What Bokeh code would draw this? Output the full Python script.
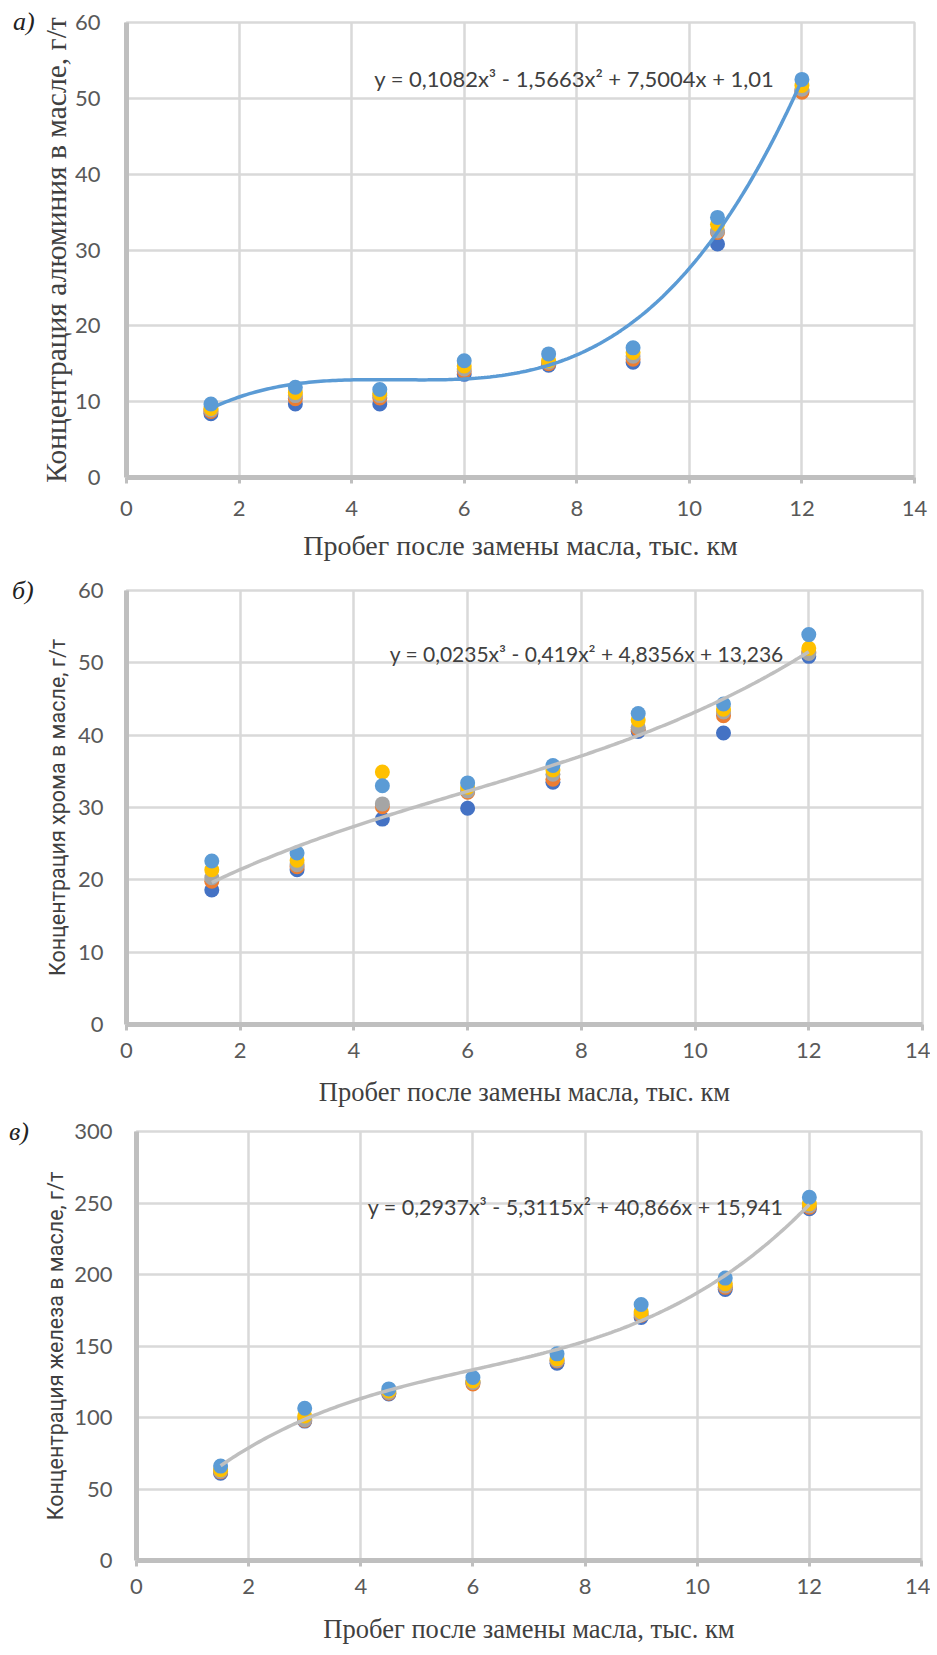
from bokeh.plotting import figure
from bokeh.layouts import row
from bokeh.models import Range1d, FixedTicker, Label, Div
from bokeh.embed import file_html
from bokeh.resources import INLINE
import numpy as np

# ---------------- data ----------------
x_km = [1.5, 3, 4.5, 6, 7.5, 9, 10.5, 12]

# Aluminium (panel a)
al_1 = [8.4, 9.7, 9.7, 13.6, 14.8, 15.2, 30.8, 51.0]
al_2 = [8.7, 10.4, 10.5, 14.0, 15.0, 15.6, 32.3, 50.8]
al_3 = [8.9, 10.8, 10.8, 14.3, 15.2, 16.0, 32.5, 51.2]
al_4 = [9.1, 11.2, 11.1, 14.7, 15.4, 16.5, 33.4, 51.7]
al_5 = [9.7, 11.9, 11.6, 15.4, 16.3, 17.1, 34.3, 52.5]
al_coef = [0.1082, -1.5663, 7.5004, 1.01]
al_eq = "y = 0,1082x³ - 1,5663x² + 7,5004x + 1,01"

# Chromium (panel b)
cr_1 = [18.6, 21.4, 28.4, 29.9, 33.5, 40.5, 40.3, 50.9]
cr_2 = [19.8, 21.8, 30.1, 32.1, 33.9, 40.8, 42.7, 51.5]
cr_3 = [20.3, 22.1, 30.5, 32.3, 34.6, 41.1, 43.2, 51.3]
cr_4 = [21.4, 22.7, 34.9, 32.8, 35.2, 42.1, 43.6, 52.0]
cr_5 = [22.6, 23.7, 33.0, 33.4, 35.8, 43.0, 44.3, 53.9]
cr_coef = [0.0235, -0.419, 4.8356, 13.236]
cr_eq = "y = 0,0235x³ - 0,419x² + 4,8356x + 13,236"

# Iron (panel c)
fe_1 = [61.0, 97.5, 116.5, 124.5, 138.0, 170.0, 189.5, 246.0]
fe_2 = [62.0, 98.0, 117.0, 123.5, 139.5, 171.5, 191.0, 247.0]
fe_3 = [62.5, 98.5, 117.5, 124.5, 140.0, 172.5, 192.0, 248.0]
fe_4 = [63.5, 101.0, 118.5, 125.5, 141.0, 174.0, 193.5, 249.5]
fe_5 = [66.0, 106.5, 120.0, 128.0, 144.5, 179.0, 197.5, 254.0]
fe_coef = [0.2937, -5.3115, 40.866, 15.941]
fe_eq = "y = 0,2937x³ - 5,3115x² + 40,866x + 15,941"

x_ticks = [0, 2, 4, 6, 8, 10, 12, 14]
x_title = "Пробег после замены масла, тыс. км"

series_colors = ["#4472C4", "#ED7D31", "#A5A5A5", "#FFC000", "#5B9BD5"]

GRID = "#d9d9d9"
AXIS = "#bfbfbf"
TICKC = "#595959"
TXT = "#404040"
LETTER_W = 36


def letter_div(letter, left, top, height):
    html = ('<div style="position:relative; left:%dpx; top:%dpx; '
            'font-family:\'Liberation Serif\'; font-style:italic; font-size:26px; '
            'line-height:30px; color:#222222; white-space:nowrap;">%s</div>') % (left, top, letter)
    return Div(text=html, width=LETTER_W, height=height, margin=(0, 0, 0, 0))


def make_panel(series, coef, eq, ymax, ystep, ytitle, ytitle_font, ytitle_size,
               height, mb_left, mb_right, mb_top, mb_bottom,
               trend_color, eq_pos, eq_size, y_label_standoff, y_title_standoff,
               x_label_standoff, x_title_standoff, x_title_size):
    p = figure(width=930 - LETTER_W, height=height, x_range=Range1d(0, 14), y_range=Range1d(0, ymax),
               output_backend="svg", toolbar_location=None,
               min_border_left=mb_left - LETTER_W, min_border_right=mb_right,
               min_border_top=mb_top, min_border_bottom=mb_bottom, margin=(0, 0, 0, 0))
    p.background_fill_color = "white"
    p.border_fill_color = "white"
    p.outline_line_color = GRID
    p.outline_line_width = 2.5

    p.xaxis.ticker = FixedTicker(ticks=x_ticks)
    p.yaxis.ticker = FixedTicker(ticks=list(range(0, ymax + 1, ystep)))
    for g in (p.xgrid, p.ygrid):
        g.grid_line_color = GRID
        g.grid_line_width = 2.5

    for ax in (p.xaxis, p.yaxis):
        ax.axis_line_color = AXIS
        ax.axis_line_width = 5
        ax.minor_tick_line_color = None
        ax.major_label_text_font = "Lato"
        ax.major_label_text_font_size = "22px"
        ax.major_label_text_color = TICKC
        ax.axis_label_text_font_style = "normal"
        ax.axis_label_text_color = TXT

    p.xaxis.major_tick_line_color = AXIS
    p.xaxis.major_tick_line_width = 3
    p.xaxis.major_tick_out = 6
    p.xaxis.major_tick_in = 0
    p.xaxis.major_label_standoff = x_label_standoff
    p.xaxis.axis_label = x_title
    p.xaxis.axis_label_text_font = "Liberation Serif"
    p.xaxis.axis_label_text_font_size = x_title_size
    p.xaxis.axis_label_standoff = x_title_standoff

    p.yaxis.major_tick_line_color = None
    p.yaxis.major_tick_out = 0
    p.yaxis.major_tick_in = 0
    p.yaxis.major_label_standoff = y_label_standoff
    p.yaxis.axis_label = ytitle
    p.yaxis.axis_label_text_font = ytitle_font
    p.yaxis.axis_label_text_font_size = ytitle_size
    p.yaxis.axis_label_standoff = y_title_standoff

    for vals, c in zip(series, series_colors):
        p.scatter(x_km, vals, marker="circle", size=15, fill_color=c, line_color=None)

    xs = np.linspace(x_km[0], x_km[-1], 200)
    ys = np.polyval(coef, xs)
    p.line(xs, ys, line_color=trend_color, line_width=3.5)

    p.add_layout(Label(x=eq_pos[0], y=eq_pos[1], text=eq, text_align="right",
                       text_baseline="middle", text_font="Lato", text_font_size=eq_size,
                       text_color=TXT))
    return p


pa = make_panel([al_1, al_2, al_3, al_4, al_5], al_coef, al_eq, 60, 10,
                "Концентрация алюминия в масле, г/т", "Liberation Serif", "29.5px",
                570, 122, 16, 22, 93, "#5B9BD5", (11.51, 52.6), "22px",
                26, 0, 17, 11, "28px")

pb = make_panel([cr_1, cr_2, cr_3, cr_4, cr_5], cr_coef, cr_eq, 60, 10,
                "Концентрация хрома в масле, г/т", "Roboto", "21.5px",
                546, 126, 8, 20, 92, "#BFBFBF", (11.56, 51.3), "21px",
                23, 5, 12, 16, "26.5px")

pc = make_panel([fe_1, fe_2, fe_3, fe_4, fe_5], fe_coef, fe_eq, 300, 50,
                "Концентрация железа в масле, г/т", "Roboto", "21.5px",
                537, 136, 9, 15, 93, "#BFBFBF", (11.54, 246.9), "21.5px",
                24, 3, 12, 17, "26.5px")

ra = row(letter_div("а)", 13, 7, 40), pa, margin=(0, 0, 0, 0))
rb = row(letter_div("б)", 12, 6, 40), pb, margin=(0, 0, 0, 0))
rc = row(letter_div("в)", 9, 1, 40), pc, margin=(0, 0, 0, 0))

open("out.html", "w").write(file_html([ra, rb, rc], INLINE))
